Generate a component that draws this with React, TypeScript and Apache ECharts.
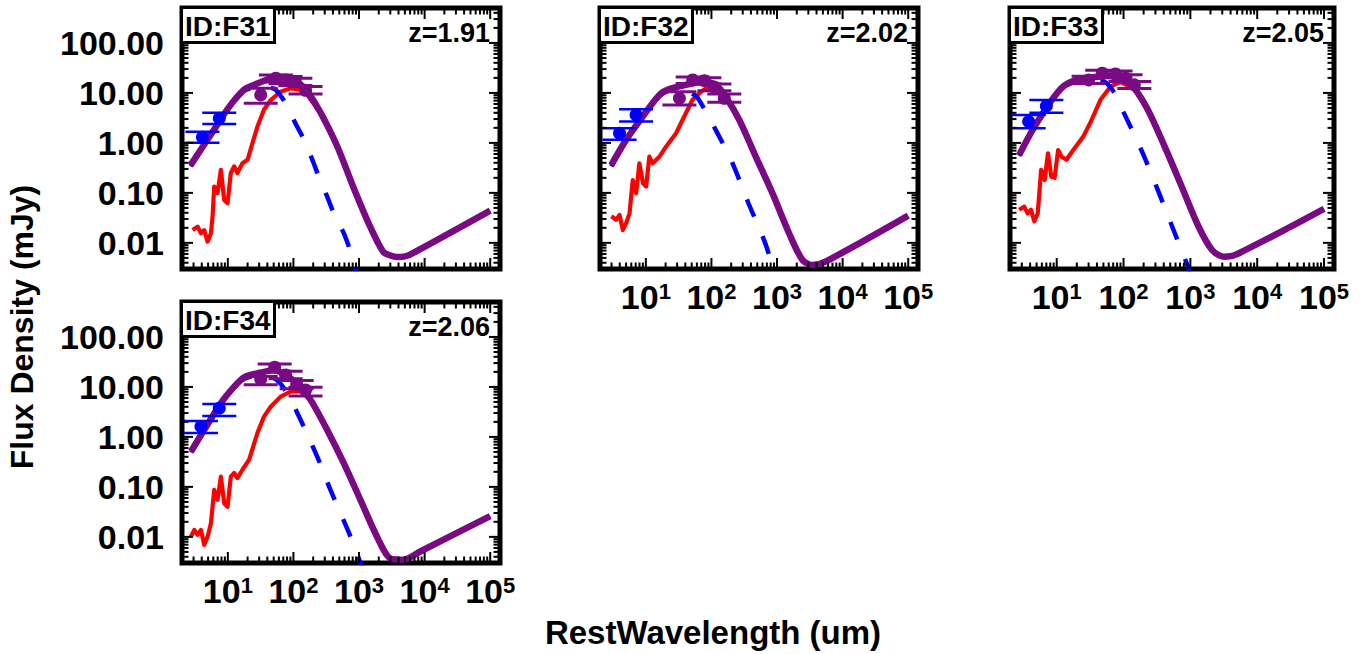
import React, { useEffect, useRef } from 'react';
import * as echarts from 'echarts';

// ---------------- labels ----------------
const panelIds = ['ID:F31', 'ID:F32', 'ID:F33', 'ID:F34'];
const redshiftLabels = ['z=1.91', 'z=2.02', 'z=2.05', 'z=2.06'];
const yAxisTitle = 'Flux Density (mJy)';
const xAxisTitle = 'RestWavelength (um)';

// ---------------- ticks ----------------
const xMajorTicks = [10, 100, 1000, 10000, 100000];
const xMinorTicks = [2, 3, 4, 5, 6, 7, 8, 9, 20, 30, 40, 50, 60, 70, 80, 90, 200, 300, 400, 500, 600, 700, 800, 900,
  2000, 3000, 4000, 5000, 6000, 7000, 8000, 9000, 20000, 30000, 40000, 50000, 60000, 70000, 80000, 90000];
const yMajorTicks = [0.01, 0.1, 1, 10, 100];
const yMinorTicks = [0.003, 0.004, 0.005, 0.006, 0.007, 0.008, 0.009, 0.02, 0.03, 0.04, 0.05, 0.06, 0.07, 0.08, 0.09,
  0.2, 0.3, 0.4, 0.5, 0.6, 0.7, 0.8, 0.9, 2, 3, 4, 5, 6, 7, 8, 9, 20, 30, 40, 50, 60, 70, 80, 90, 200, 300, 400, 500];
const X_MIN = 2;
const X_MAX = 141000;
const Y_MIN = 0.003;
const Y_MAX = 500;

// ---------------- F31 ----------------
const f31TotalWave = [2.7, 6.1, 10.4, 17.5, 25, 32, 45, 57, 75, 100, 130, 165, 260, 470, 820, 1480, 2340, 3000, 3800, 4800, 6000, 100000];
const f31TotalFlux = [0.36, 1.8, 5.2, 11.5, 14.5, 16.6, 19.5, 21, 20.5, 18, 14.5, 10.5, 4, 0.83, 0.13, 0.021, 0.0066, 0.0056, 0.0052, 0.0053, 0.0058, 0.044];
const f31WarmWave = [2.7, 6.1, 10.4, 17.5, 25, 32, 45, 54, 76, 107, 145, 194, 244, 327, 413, 585, 741, 900, 1200];
const f31WarmFlux = [0.34, 1.7, 4.9, 10.8, 12.8, 13.2, 12.6, 11.5, 6.2, 2.48, 1.15, 0.46, 0.21, 0.084, 0.039, 0.0156, 0.0067, 0.0028, 0.0008];
const f31SbWave = [2.9, 3.46, 3.89, 4.37, 4.91, 5.52, 5.85, 6.19, 6.97, 7.83, 8.8, 9.9, 11.1, 12.5, 14.0, 16.7, 20, 23.7, 28.2, 35.5, 45, 64, 90, 145, 260, 470, 820, 1480, 2340, 3800, 6000, 100000];
const f31SbFlux = [0.018, 0.021, 0.0156, 0.018, 0.0106, 0.0156, 0.0336, 0.134, 0.099, 0.29, 0.072, 0.062, 0.25, 0.34, 0.25, 0.39, 0.46, 0.99, 2.1, 4.6, 7.2, 10.6, 12.4, 11.2, 3.9, 0.82, 0.128, 0.0207, 0.0065, 0.0051, 0.0057, 0.043];
const f31NirWave = [4.1, 7.4];
const f31NirFlux = [1.3, 3.1];
const f31NirLo = [1.01, 2.4];
const f31NirHi = [1.68, 4.0];
const f31FirWave = [31.7, 54, 76, 107, 153];
const f31FirFlux = [9.1, 19.7, 18.2, 16.8, 11.3];
const f31FirLo = [6.2, 16.5, 15.2, 14.0, 9.5];
const f31FirHi = [12.4, 22.9, 21.2, 19.6, 13.4];

// ---------------- F32 ----------------
const f32TotalWave = [2.97, 5.0, 9.0, 16.1, 22.8, 40.5, 74, 117, 165, 265, 474, 850, 1525, 2430, 3450, 5470, 100000];
const f32TotalFlux = [0.36, 1.15, 3.4, 9.1, 11.9, 14.5, 16.8, 14.5, 8.4, 2.9, 0.53, 0.099, 0.0156, 0.0046, 0.0036, 0.0042, 0.035];
const f32WarmWave = [2.97, 5.0, 9.0, 16.1, 22.8, 40.5, 55, 65, 120, 205, 367, 660, 850, 1200];
const f32WarmFlux = [0.34, 1.1, 3.2, 8.6, 11, 11, 9.1, 7.2, 1.68, 0.42, 0.062, 0.0099, 0.0034, 0.0008];
const f32SbWave = [2.98, 3.53, 3.97, 4.46, 5.02, 5.64, 6.31, 7.12, 7.97, 9.04, 10.1, 11.3, 12.7, 16.1, 20.3, 28.9, 36.4, 51.2, 65.5, 86.9, 117, 165, 265, 474, 850, 1525, 2430, 3450, 5470, 100000];
const f32SbFlux = [0.034, 0.029, 0.036, 0.018, 0.025, 0.039, 0.18, 0.099, 0.39, 0.156, 0.134, 0.53, 0.39, 0.53, 0.84, 1.56, 2.9, 7.2, 9.9, 13, 12.4, 8.1, 2.85, 0.52, 0.097, 0.0153, 0.0045, 0.0035, 0.0041, 0.034];
const f32NirWave = [3.97, 7.1];
const f32NirFlux = [1.56, 3.63];
const f32NirLo = [1.15, 2.67];
const f32NirHi = [1.97, 4.7];
const f32FirWave = [32.5, 51.8, 78, 111, 157];
const f32FirFlux = [7.8, 18.2, 17.6, 13, 7.8];
const f32FirLo = [5.7, 15.5, 15, 11, 6.5];
const f32FirHi = [10.5, 20.8, 20, 15, 9.5];

// ---------------- F33 ----------------
const f33TotalWave = [2.74, 4.36, 7.8, 12.5, 20, 35.6, 57, 102, 145, 231, 413, 741, 1330, 2115, 3180, 4790, 100000];
const f33TotalFlux = [0.575, 1.82, 6.2, 13.4, 18.2, 20.6, 21.9, 18.2, 12.4, 4.6, 0.84, 0.134, 0.021, 0.0072, 0.0053, 0.0058, 0.048];
const f33WarmWave = [2.74, 4.36, 7.8, 12.5, 20, 35.6, 50.6, 71, 102, 204, 585, 990, 1300];
const f33WarmFlux = [0.55, 1.75, 5.9, 12.8, 16.8, 17.8, 17, 10.6, 3.9, 0.53, 0.0156, 0.0025, 0.0006];
const f33SbWave = [2.74, 3.27, 3.67, 4.12, 4.63, 5.2, 5.85, 6.6, 7.4, 8.3, 9.3, 10.5, 11.8, 14, 17.7, 25, 31.7, 45, 64, 90.6, 145, 231, 413, 741, 1330, 2115, 3180, 4790, 100000];
const f33SbFlux = [0.046, 0.053, 0.039, 0.046, 0.027, 0.039, 0.29, 0.18, 0.62, 0.21, 0.2, 0.72, 0.53, 0.46, 0.72, 1.34, 2.5, 7.2, 13.5, 16.5, 12, 4.5, 0.82, 0.131, 0.0205, 0.007, 0.0052, 0.0057, 0.047];
const f33NirWave = [3.8, 7.0];
const f33NirFlux = [2.67, 5.5];
const f33NirLo = [1.97, 4.0];
const f33NirHi = [3.63, 7.2];
const f33FirWave = [30, 48, 76, 107, 145];
const f33FirFlux = [18.2, 24.8, 24, 19.7, 14.5];
const f33FirLo = [15.5, 21.5, 21, 17, 12.3];
const f33FirHi = [21.5, 28.5, 27.5, 23, 17];

// ---------------- F34 ----------------
const f34TotalWave = [2.74, 4.36, 7.8, 12.5, 17.7, 31.7, 50.6, 80.7, 129, 183, 327, 585, 1050, 1880, 3000, 4790, 8570, 100000];
const f34TotalFlux = [0.51, 1.38, 4.7, 10.1, 15.6, 19.3, 21.5, 16.5, 10, 5.5, 1.38, 0.3, 0.055, 0.0101, 0.0037, 0.0035, 0.0051, 0.026];
const f34WarmWave = [2.74, 4.36, 7.8, 12.5, 17.7, 31.7, 50.6, 71.8, 115, 231, 367, 741, 1050, 1400];
const f34WarmFlux = [0.49, 1.32, 4.5, 9.8, 14.5, 17, 14.9, 9.4, 2.98, 0.40, 0.087, 0.0101, 0.003, 0.0009];
const f34SbWave = [2.74, 3.08, 3.46, 3.89, 4.36, 4.91, 5.52, 6.2, 6.97, 7.83, 8.8, 9.9, 11.1, 12.5, 14, 16.7, 21.1, 28.2, 35.6, 45, 64, 90.6, 129, 183, 327, 585, 1050, 1880, 3000, 4790, 8570, 100000];
const f34SbFlux = [0.0101, 0.0138, 0.011, 0.0138, 0.0069, 0.0101, 0.0188, 0.087, 0.055, 0.16, 0.047, 0.04, 0.16, 0.19, 0.15, 0.22, 0.35, 1.19, 2.55, 4.0, 6.4, 8.1, 8.1, 5.4, 1.36, 0.295, 0.054, 0.0099, 0.0036, 0.0034, 0.005, 0.0255];
const f34NirWave = [3.89, 7.4];
const f34NirFlux = [1.61, 3.75];
const f34NirLo = [1.19, 2.63];
const f34NirHi = [2.09, 4.57];
const f34FirWave = [31.7, 51.8, 76, 112, 153];
const f34FirFlux = [14.3, 24.8, 17.4, 11.3, 8.7];
const f34FirLo = [11, 20.5, 14.5, 9.2, 6.6];
const f34FirHi = [16.1, 28.8, 20.5, 13.5, 9.9];

// ---------------- layout / style ----------------
const FONT = '"Liberation Sans", Arial, Helvetica, sans-serif';
const PURPLE = '#7a0a84';
const RED = '#ff0000';
const BLUE = '#0000ff';
const gridPos = [
  { left: 182, top: 8, width: 318, height: 261 },
  { left: 600, top: 8, width: 318, height: 261 },
  { left: 1010, top: 8, width: 324, height: 261 },
  { left: 182, top: 302, width: 318, height: 261 },
];
const showXLabels = [false, true, true, true];
const showYLabels = [true, false, false, true];
const CAP_HALF = 17;
const MAJOR_LEN = 11;
const MINOR_LEN = 6.5;

const zip = (a: number[], b: number[]) => a.map((v, i) => [v, b[i]]);

const panels = [
  { total: zip(f31TotalWave, f31TotalFlux), warm: zip(f31WarmWave, f31WarmFlux), sb: zip(f31SbWave, f31SbFlux),
    nir: { w: f31NirWave, f: f31NirFlux, lo: f31NirLo, hi: f31NirHi }, fir: { w: f31FirWave, f: f31FirFlux, lo: f31FirLo, hi: f31FirHi } },
  { total: zip(f32TotalWave, f32TotalFlux), warm: zip(f32WarmWave, f32WarmFlux), sb: zip(f32SbWave, f32SbFlux),
    nir: { w: f32NirWave, f: f32NirFlux, lo: f32NirLo, hi: f32NirHi }, fir: { w: f32FirWave, f: f32FirFlux, lo: f32FirLo, hi: f32FirHi } },
  { total: zip(f33TotalWave, f33TotalFlux), warm: zip(f33WarmWave, f33WarmFlux), sb: zip(f33SbWave, f33SbFlux),
    nir: { w: f33NirWave, f: f33NirFlux, lo: f33NirLo, hi: f33NirHi }, fir: { w: f33FirWave, f: f33FirFlux, lo: f33FirLo, hi: f33FirHi } },
  { total: zip(f34TotalWave, f34TotalFlux), warm: zip(f34WarmWave, f34WarmFlux), sb: zip(f34SbWave, f34SbFlux),
    nir: { w: f34NirWave, f: f34NirFlux, lo: f34NirLo, hi: f34NirHi }, fir: { w: f34FirWave, f: f34FirFlux, lo: f34FirLo, hi: f34FirHi } },
];

function capSeries(g: number, w: number[], lo: number[], hi: number[], color: string, width: number) {
  return {
    type: 'custom',
    coordinateSystem: 'cartesian2d',
    xAxisIndex: g,
    yAxisIndex: g,
    silent: true,
    z: 5,
    data: w.map((v, i) => [v, lo[i], hi[i]]),
    encode: { x: 0, y: [1, 2] },
    renderItem: (_p: any, api: any) => {
      const a = api.coord([api.value(0), api.value(1)]);
      const b = api.coord([api.value(0), api.value(2)]);
      const st = { stroke: color, lineWidth: width };
      return {
        type: 'group',
        children: [
          { type: 'line', shape: { x1: a[0] - CAP_HALF, y1: a[1], x2: a[0] + CAP_HALF, y2: a[1] }, style: st },
          { type: 'line', shape: { x1: b[0] - CAP_HALF, y1: b[1], x2: b[0] + CAP_HALF, y2: b[1] }, style: st },
        ],
      };
    },
  };
}

// IDL-style inward ticks on all four sides, placed through the axes' own scales
function xTickSeries(g: number, vals: number[], len: number) {
  return {
    type: 'custom', coordinateSystem: 'cartesian2d', xAxisIndex: g, yAxisIndex: g,
    silent: true, clip: false, z: 7,
    data: vals.map((v) => [v, Y_MIN]),
    encode: { x: 0, y: 1 },
    renderItem: (_p: any, api: any) => {
      const b = api.coord([api.value(0), Y_MIN]);
      const t = api.coord([api.value(0), Y_MAX]);
      const st = { stroke: '#000', lineWidth: 2 };
      return {
        type: 'group',
        children: [
          { type: 'line', shape: { x1: b[0], y1: b[1], x2: b[0], y2: b[1] - len }, style: st },
          { type: 'line', shape: { x1: t[0], y1: t[1], x2: t[0], y2: t[1] + len }, style: st },
        ],
      };
    },
  };
}

function yTickSeries(g: number, vals: number[], len: number) {
  return {
    type: 'custom', coordinateSystem: 'cartesian2d', xAxisIndex: g, yAxisIndex: g,
    silent: true, clip: false, z: 7,
    data: vals.map((v) => [X_MIN, v]),
    encode: { x: 0, y: 1 },
    renderItem: (_p: any, api: any) => {
      const l = api.coord([X_MIN, api.value(1)]);
      const r = api.coord([X_MAX, api.value(1)]);
      const st = { stroke: '#000', lineWidth: 2 };
      return {
        type: 'group',
        children: [
          { type: 'line', shape: { x1: l[0], y1: l[1], x2: l[0] + len, y2: l[1] }, style: st },
          { type: 'line', shape: { x1: r[0], y1: r[1], x2: r[0] - len, y2: r[1] }, style: st },
        ],
      };
    },
  };
}

function buildOption() {
  const grids: any[] = [];
  const xAxes: any[] = [];
  const yAxes: any[] = [];
  const series: any[] = [];
  const titles: any[] = [];

  gridPos.forEach((pos, g) => {
    grids.push({
      left: pos.left, top: pos.top, width: pos.width, height: pos.height,
      show: true, borderColor: '#000', borderWidth: 5, backgroundColor: 'transparent',
      containLabel: false, outerBoundsMode: 'none',
    });
    xAxes.push({
      type: 'log', logBase: 10, min: X_MIN, max: X_MAX, gridIndex: g, position: 'bottom',
      axisLine: { show: false, onZero: false }, splitLine: { show: false }, axisTick: { show: false }, minorTick: { show: false },
      axisLabel: {
        show: showXLabels[g], customValues: xMajorTicks, margin: 11,
        formatter: (v: number) => '{b|10}{s|' + Math.round(Math.log10(v)) + '}',
        rich: {
          b: { fontSize: 34, fontWeight: 'bold', fontFamily: FONT, color: '#000' },
          s: { fontSize: 22, fontWeight: 'bold', fontFamily: FONT, color: '#000', verticalAlign: 'top' },
        },
      },
    });
    yAxes.push({
      type: 'log', logBase: 10, min: Y_MIN, max: Y_MAX, gridIndex: g, position: 'left',
      axisLine: { show: false, onZero: false }, splitLine: { show: false }, axisTick: { show: false }, minorTick: { show: false },
      axisLabel: {
        show: showYLabels[g], customValues: yMajorTicks, margin: 18,
        formatter: (v: number) => v.toFixed(2),
        fontSize: 34, fontWeight: 'bold', fontFamily: FONT, color: '#000',
      },
    });

    const p = panels[g];
    const ax = { xAxisIndex: g, yAxisIndex: g };
    series.push({
      type: 'line', ...ax, data: p.sb, showSymbol: false, symbol: 'none', silent: true, z: 2,
      lineStyle: { color: RED, width: 4.2, join: 'round' },
    });
    series.push({
      type: 'line', ...ax, data: p.warm, showSymbol: false, symbol: 'none', silent: true, z: 3,
      smooth: 0.3, lineStyle: { color: BLUE, width: 4.5, type: [19, 21] },
    });
    series.push({
      type: 'line', ...ax, data: p.total, showSymbol: false, symbol: 'none', silent: true, z: 4,
      smooth: 0.3, lineStyle: { color: PURPLE, width: 6.5, join: 'round' },
    });
    series.push(capSeries(g, p.nir.w, p.nir.lo, p.nir.hi, BLUE, 2.5));
    series.push(capSeries(g, p.fir.w, p.fir.lo, p.fir.hi, PURPLE, 3));
    series.push({
      type: 'scatter', ...ax, data: zip(p.nir.w, p.nir.f), symbol: 'circle', symbolSize: 13, silent: true, z: 6,
      itemStyle: { color: BLUE, opacity: 1 },
    });
    series.push({
      type: 'scatter', ...ax, data: zip(p.fir.w, p.fir.f), symbol: 'circle', symbolSize: 13, silent: true, z: 6,
      itemStyle: { color: PURPLE, opacity: 1 },
    });
    series.push(xTickSeries(g, xMajorTicks, MAJOR_LEN));
    series.push(xTickSeries(g, xMinorTicks, MINOR_LEN));
    series.push(yTickSeries(g, yMajorTicks, MAJOR_LEN));
    series.push(yTickSeries(g, yMinorTicks, MINOR_LEN));

    titles.push({
      text: panelIds[g], left: pos.left - 1, top: pos.top - 1, z: 20,
      backgroundColor: '#fff', borderColor: '#000', borderWidth: 3, padding: [5, 4, 3, 4],
      textStyle: { fontSize: 28, fontWeight: 'bold', fontFamily: FONT, color: '#000' },
    });
    titles.push({
      text: redshiftLabels[g], right: 1368 - (pos.left + pos.width - 10), top: pos.top + 11, z: 20,
      padding: 0,
      textStyle: { fontSize: 27, fontWeight: 'bold', fontFamily: FONT, color: '#000' },
    });
  });

  return {
    animation: false,
    backgroundColor: '#fff',
    title: titles,
    grid: grids,
    xAxis: xAxes,
    yAxis: yAxes,
    series,
    graphic: [
      {
        type: 'text', x: 22, y: 327, rotation: Math.PI / 2,
        style: { text: yAxisTitle, fontSize: 32, fontWeight: 'bold', fontFamily: FONT, fill: '#000', align: 'center', verticalAlign: 'middle' },
      },
      {
        type: 'text', x: 713, y: 632,
        style: { text: xAxisTitle, fontSize: 33, fontWeight: 'bold', fontFamily: FONT, fill: '#000', align: 'center', verticalAlign: 'middle' },
      },
    ],
  };
}

export default function App() {
  const ref = useRef<HTMLDivElement>(null);
  useEffect(() => {
    if (!ref.current) return;
    const chart = echarts.init(ref.current, undefined, { renderer: 'svg' });
    chart.setOption(buildOption() as any);
    return () => chart.dispose();
  }, []);
  return (
    <div
      ref={ref}
      style={{ position: 'absolute', left: 0, top: 0, width: 1368, height: 654, background: '#fff' }}
    />
  );
}
